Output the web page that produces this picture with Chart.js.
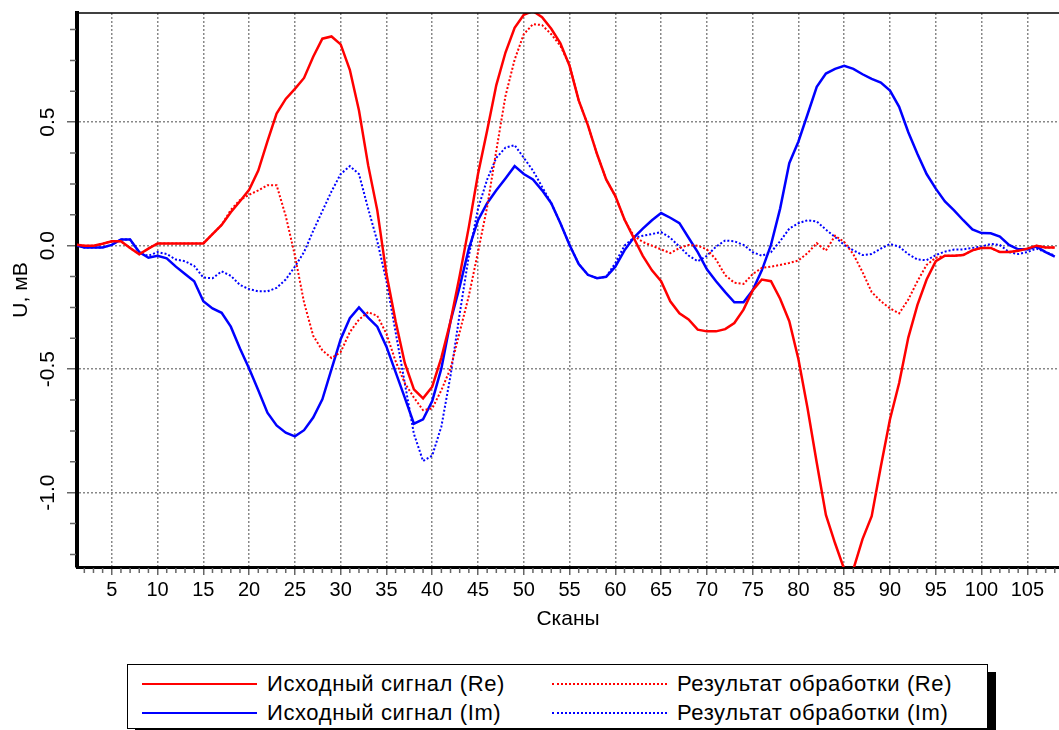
<!DOCTYPE html>
<html>
<head>
<meta charset="utf-8">
<script src="https://cdn.jsdelivr.net/npm/chart.js@4.4.1/dist/chart.umd.min.js"></script>
<style>
  body { margin: 0; background: #fff; width: 1059px; height: 730px; overflow: hidden; position: relative; font-family: "Liberation Sans", Arial, sans-serif; }
  #wrap { position: absolute; left: 0; top: 0; width: 1059px; height: 650px; }
  #legend { position: absolute; left: 127px; top: 664px; width: 859px; height: 63px; border: 1.5px solid #000; box-shadow: 8px 8px 0 #000; background: #fff; }
  .item { position: absolute; height: 24px; display: flex; align-items: center; font-size: 22px; letter-spacing: 0.6px; color: #000; white-space: nowrap; }
  .item .ln { width: 115px; margin-right: 10px; }
</style>
</head>
<body>
<div id="wrap"><canvas id="chart"></canvas></div>
<div id="legend"></div>
<script>
// scan numbers
const scans = [1, 2, 3, 4, 5, 6, 7, 8, 9, 10, 11, 12, 13, 14, 15, 16, 17, 18, 19, 20,
  21, 22, 23, 24, 25, 26, 27, 28, 29, 30, 31, 32, 33, 34, 35, 36, 37, 38, 39, 40,
  41, 42, 43, 44, 45, 46, 47, 48, 49, 50, 51, 52, 53, 54, 55, 56, 57, 58, 59, 60,
  61, 62, 63, 64, 65, 66, 67, 68, 69, 70, 71, 72, 73, 74, 75, 76, 77, 78, 79, 80,
  81, 82, 83, 84, 85, 86, 87, 88, 89, 90, 91, 92, 93, 94, 95, 96, 97, 98, 99, 100,
  101, 102, 103, 104, 105, 106, 107, 108];

// Исходный сигнал (Re)
const srcRe = [0.005, 0.0, 0.0, 0.008, 0.018, 0.018, -0.009, -0.035, -0.012, 0.009,
  0.009, 0.009, 0.009, 0.009, 0.009, 0.047, 0.084, 0.135, 0.18, 0.226,
  0.304, 0.422, 0.535, 0.594, 0.635, 0.679, 0.765, 0.838, 0.847, 0.815,
  0.712, 0.547, 0.326, 0.143, -0.115, -0.306, -0.475, -0.582, -0.618, -0.571,
  -0.453, -0.306, -0.122, 0.076, 0.29, 0.466, 0.65, 0.782, 0.882, 0.935,
  0.95, 0.925, 0.878, 0.819, 0.728, 0.588, 0.488, 0.371, 0.268, 0.201,
  0.106, 0.032, -0.041, -0.1, -0.144, -0.225, -0.274, -0.299, -0.34, -0.347,
  -0.347, -0.338, -0.313, -0.259, -0.181, -0.137, -0.144, -0.215, -0.306, -0.46,
  -0.659, -0.879, -1.09, -1.205, -1.31, -1.31, -1.188, -1.095, -0.894, -0.703,
  -0.556, -0.372, -0.24, -0.137, -0.063, -0.041, -0.041, -0.038, -0.019, -0.009,
  -0.009, -0.026, -0.026, -0.021, -0.012, 0.0, -0.007, -0.007];

// Исходный сигнал (Im)
const srcIm = [0.003, -0.007, -0.007, -0.007, 0.003, 0.025, 0.025, -0.026, -0.049, -0.041,
  -0.051, -0.085, -0.115, -0.144, -0.225, -0.254, -0.272, -0.328, -0.416, -0.497,
  -0.585, -0.676, -0.728, -0.757, -0.772, -0.747, -0.696, -0.622, -0.5, -0.379,
  -0.294, -0.25, -0.291, -0.328, -0.409, -0.512, -0.615, -0.721, -0.703, -0.629,
  -0.497, -0.306, -0.166, -0.012, 0.103, 0.172, 0.224, 0.272, 0.322, 0.29,
  0.268, 0.224, 0.172, 0.091, 0.003, -0.074, -0.118, -0.132, -0.126, -0.085,
  -0.019, 0.032, 0.069, 0.103, 0.132, 0.113, 0.091, 0.032, -0.026, -0.096,
  -0.144, -0.188, -0.229, -0.229, -0.181, -0.1, 0.003, 0.15, 0.334, 0.422,
  0.532, 0.643, 0.697, 0.716, 0.728, 0.716, 0.694, 0.675, 0.66, 0.628,
  0.562, 0.459, 0.371, 0.29, 0.231, 0.179, 0.143, 0.103, 0.066, 0.051,
  0.05, 0.037, 0.003, -0.015, -0.015, -0.004, -0.026, -0.044];

// Результат обработки (Re)
const resRe = [0.005, 0.0, 0.0, 0.008, 0.018, 0.018, -0.009, -0.035, -0.012, 0.009,
  0.009, 0.009, 0.009, 0.009, 0.009, 0.047, 0.084, 0.145, 0.185, 0.206,
  0.224, 0.245, 0.245, 0.12, -0.04, -0.23, -0.365, -0.424, -0.455, -0.431,
  -0.35, -0.299, -0.269, -0.284, -0.357, -0.468, -0.556, -0.615, -0.666, -0.659,
  -0.585, -0.497, -0.35, -0.203, -0.026, 0.157, 0.385, 0.606, 0.753, 0.856,
  0.897, 0.893, 0.856, 0.809, 0.731, 0.588, 0.488, 0.371, 0.268, 0.201,
  0.106, 0.04, 0.015, 0.0, -0.015, -0.03, -0.01, 0.003, 0.0, -0.015,
  -0.056, -0.12, -0.15, -0.155, -0.115, -0.09, -0.085, -0.078, -0.07, -0.06,
  -0.03, 0.01, -0.02, 0.04, 0.015, -0.035, -0.107, -0.188, -0.225, -0.254,
  -0.274, -0.218, -0.144, -0.078, -0.049, -0.041, -0.041, -0.038, -0.019, -0.009,
  -0.009, -0.026, -0.026, -0.021, -0.012, 0.0, -0.007, -0.007];

// Результат обработки (Im)
const resIm = [0.003, -0.007, -0.007, -0.007, 0.003, 0.025, 0.025, -0.03, -0.041, -0.026,
  -0.034, -0.056, -0.063, -0.082, -0.129, -0.132, -0.104, -0.122, -0.159, -0.176,
  -0.185, -0.185, -0.171, -0.137, -0.085, -0.026, 0.06, 0.14, 0.22, 0.29,
  0.322, 0.29, 0.15, 0.018, -0.144, -0.35, -0.556, -0.762, -0.872, -0.85,
  -0.732, -0.526, -0.276, -0.041, 0.15, 0.268, 0.356, 0.397, 0.407, 0.356,
  0.304, 0.238, 0.172, 0.091, 0.003, -0.074, -0.118, -0.132, -0.126, -0.07,
  0.0, 0.032, 0.04, 0.047, 0.055, 0.032, -0.004, -0.04, -0.063, -0.041,
  -0.004, 0.021, 0.018, 0.003, -0.026, -0.041, -0.026, 0.018, 0.069, 0.091,
  0.103, 0.098, 0.065, 0.035, 0.003, -0.019, -0.038, -0.034, -0.012, 0.007,
  -0.004, -0.034, -0.056, -0.059, -0.038, -0.024, -0.016, -0.015, -0.009, -0.004,
  0.007, 0.003, -0.026, -0.034, -0.026, -0.012, -0.026, -0.04];

const xTicks = [5, 10, 15, 20, 25, 30, 35, 40, 45, 50, 55, 60, 65, 70, 75, 80, 85, 90, 95, 100, 105];
const yTicks = [-1.0, -0.5, 0.0, 0.5];

const FONT = '"Liberation Sans", Arial, sans-serif';
Chart.defaults.font.family = FONT;
Chart.defaults.color = '#000';

const toXY = vals => vals.map((v, i) => ({ x: scans[i], y: v }));

// top frame line, minor ticks and rotated y labels
const frame = {
  id: 'frame',
  afterDraw(chart) {
    const { ctx, chartArea: a, scales: { x, y } } = chart;
    ctx.save();
    ctx.strokeStyle = '#000';
    ctx.lineWidth = 1.5;
    ctx.beginPath();
    ctx.moveTo(a.left, a.top);
    ctx.lineTo(a.right, a.top);
    ctx.stroke();

    ctx.strokeStyle = '#666';
    ctx.lineWidth = 1.5;
    ctx.beginPath();
    for (let v = 2; v <= 108; v++) {
      if (v % 5 === 0) continue;
      const px = x.getPixelForValue(v);
      ctx.moveTo(px, a.bottom + 1);
      ctx.lineTo(px, a.bottom + 6);
    }
    for (let k = -10; k <= 7; k++) {
      if (k % 4 === 0) continue;
      const py = y.getPixelForValue(k * 0.125);
      ctx.moveTo(a.left - 7, py);
      ctx.lineTo(a.left - 1, py);
    }
    ctx.stroke();

    ctx.fillStyle = '#000';
    ctx.font = '21px ' + FONT;
    ctx.textAlign = 'center';
    ctx.textBaseline = 'middle';
    yTicks.forEach(v => {
      ctx.save();
      ctx.translate(48, y.getPixelForValue(v));
      ctx.rotate(-Math.PI / 2);
      ctx.fillText(v.toFixed(1), 0, 0);
      ctx.restore();
    });
    ctx.restore();
  }
};

const chart = new Chart(document.getElementById('chart'), {
  type: 'line',
  data: {
    datasets: [
      { label: 'Исходный сигнал (Re)', data: toXY(srcRe), borderColor: '#ff0000', borderWidth: 2.5 },
      { label: 'Результат обработки (Re)', data: toXY(resRe), borderColor: '#ff0000', borderWidth: 2, borderDash: [2, 2] },
      { label: 'Исходный сигнал (Im)', data: toXY(srcIm), borderColor: '#0000ff', borderWidth: 2.5 },
      { label: 'Результат обработки (Im)', data: toXY(resIm), borderColor: '#0000ff', borderWidth: 2, borderDash: [2, 2] }
    ]
  },
  options: {
    responsive: true,
    maintainAspectRatio: false,
    animation: false,
    layout: { padding: { top: 13, right: 0, bottom: 0, left: 0 } },
    datasets: { line: { pointRadius: 0, tension: 0, fill: false, clip: 0 } },
    plugins: { legend: { display: false }, tooltip: { enabled: false } },
    scales: {
      x: {
        type: 'linear',
        min: 1.2,
        max: 108.46,
        afterBuildTicks: s => { s.ticks = xTicks.map(v => ({ value: v })); },
        afterFit: s => { s.height = 83; },
        ticks: { font: { size: 20 }, padding: 3, maxRotation: 0, autoSkip: false, callback: v => String(v) },
        grid: { color: '#888', lineWidth: 1.5, tickLength: 8, tickColor: '#666', tickWidth: 1.5 },
        border: { color: '#000', width: 3, dash: [2, 2] },
        title: { display: true, text: 'Сканы', font: { size: 21 }, padding: { top: 0, bottom: 18 } }
      },
      y: {
        min: -1.301,
        max: 0.942,
        afterBuildTicks: s => { s.ticks = yTicks.map(v => ({ value: v })); },
        afterFit: s => { s.width = 77; },
        ticks: { display: false },
        grid: { color: '#888', lineWidth: 1.5, tickLength: 10, tickColor: '#666', tickWidth: 1.5 },
        border: { color: '#000', width: 4, dash: [2, 2] },
        title: { display: true, text: 'U, мВ', font: { size: 21 }, padding: { top: 9, bottom: 0 } }
      }
    }
  },
  plugins: [frame]
});

// legend: two columns, two rows
const legend = document.getElementById('legend');
chart.data.datasets.forEach((ds, i) => {
  const item = document.createElement('div');
  item.className = 'item';
  item.style.left = (i % 2 === 0 ? 14 : 424) + 'px';
  item.style.top = (i < 2 ? 7 : 36) + 'px';
  const ln = document.createElement('span');
  ln.className = 'ln';
  ln.style.borderTop = ds.borderDash ? '2px dotted ' + ds.borderColor : '2.5px solid ' + ds.borderColor;
  item.appendChild(ln);
  item.appendChild(document.createTextNode(ds.label));
  legend.appendChild(item);
});
</script>
</body>
</html>
